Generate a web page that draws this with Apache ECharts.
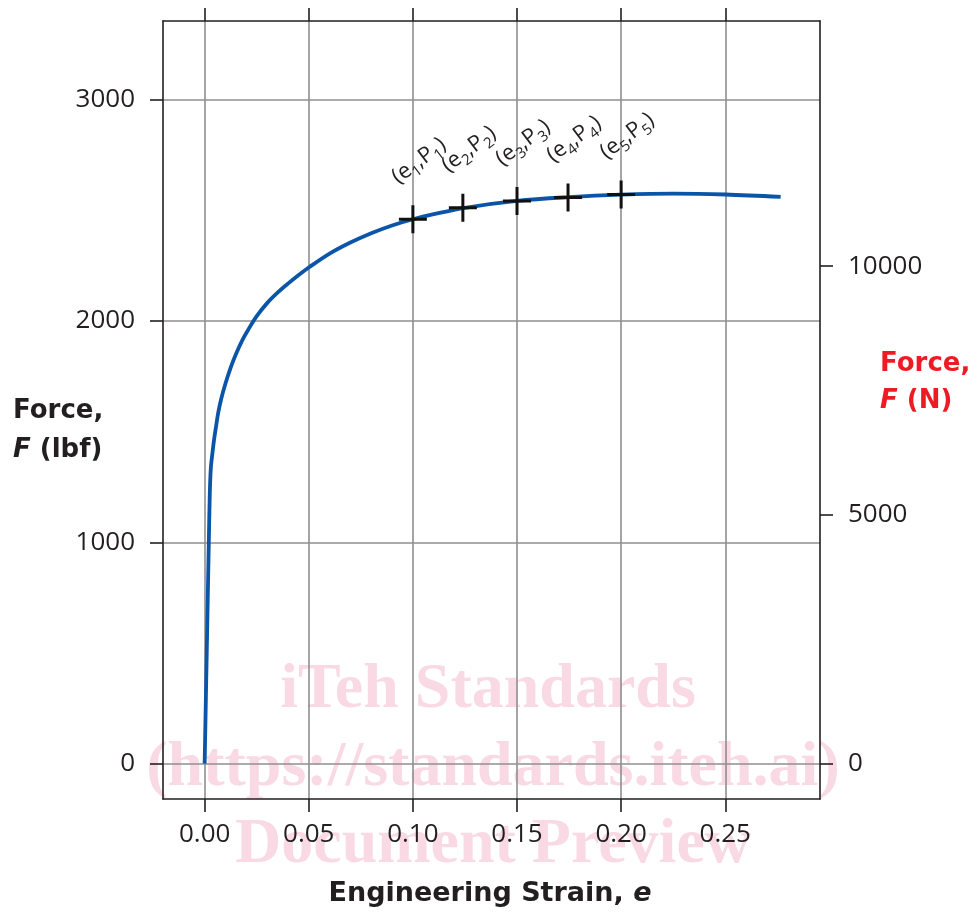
<!DOCTYPE html>
<html>
<head>
    <meta charset="UTF-8" />
    <title>force strain</title>
    <script src="https://cdn.jsdelivr.net/npm/echarts@6/dist/echarts.min.js"></script>
    <style>
        html, body { margin: 0; padding: 0; background: #fff; }
        #A { width: 979px; height: 913px; background: #fff; }
    </style>
</head>
<body>
    <div id="A"></div>
    <script>
        // curve (strain, lbf)
        var strain = [0, 0.0010, 0.0020, 0.0025, 0.0030, 0.0037, 0.0045, 0.0055, 0.0065, 0.0080,
            0.0100, 0.0125, 0.0150, 0.0180, 0.0210, 0.0250, 0.0300, 0.0350, 0.0400, 0.0450,
            0.0500, 0.0600, 0.0700, 0.0800, 0.0900, 0.1000, 0.1100, 0.1250, 0.1500, 0.1750,
            0.2000, 0.2250, 0.2500, 0.2766];
        var force = [0, 500, 1000, 1230, 1340, 1400, 1462, 1525, 1585, 1650,
            1718, 1790, 1850, 1912, 1962, 2022, 2081, 2128, 2169, 2207,
            2242, 2305, 2355, 2397, 2432, 2460, 2483, 2512, 2543, 2560,
            2571, 2576, 2572, 2561];
        // marked points
        var pointStrain = [0.100, 0.124, 0.150, 0.1745, 0.200];
        var pointForce = [2460, 2512, 2542, 2558, 2572];
        var pointIndex = ['1', '2', '3', '4', '5'];
        // ticks
        var xTicks = [0, 0.05, 0.10, 0.15, 0.20, 0.25];
        var yTicks = [0, 1000, 2000, 3000];
        var yRightTicks = [0, 5000, 10000];
        var LBF_TO_N = 4.44822;
        var yMin = -160, yMax = 3356;

        var ink = '#231f20';
        var gridGray = '#8f8f8f';
        var tickFont = '"Open Sans"';
        var wmColor = 'rgba(232, 110, 150, 0.26)';

        var myChart = echarts.init(document.getElementById('A'));

        var curve = strain.map(function (s, i) { return [s, force[i]]; });
        var points = pointStrain.map(function (s, i) { return [s, pointForce[i]]; });

        var axisLineStyle = { show: true, onZero: false, lineStyle: { color: ink, width: 1.6 } };
        var tickStyle = { length: 13, lineStyle: { color: ink, width: 1.6 } };
        var plain = function (v) { return String(v); };

        option = {
            animation: false,
            backgroundColor: 'transparent',
            grid: { left: 163, right: 159, top: 21, bottom: 114, containLabel: false },
            xAxis: [
                {
                    type: 'value', position: 'bottom', min: -0.02, max: 0.2955,
                    axisLine: axisLineStyle,
                    axisTick: Object.assign({ show: true, inside: false, customValues: xTicks }, tickStyle),
                    axisLabel: {
                        customValues: xTicks, margin: 23, color: ink, fontSize: 26, fontFamily: tickFont,
                        formatter: function (v) { return v.toFixed(2); }
                    },
                    splitLine: { show: true, lineStyle: { color: gridGray, width: 1.6 } }
                },
                {
                    type: 'value', position: 'top', min: -0.02, max: 0.2955,
                    axisLine: axisLineStyle,
                    axisTick: Object.assign({ show: true, inside: false, customValues: xTicks }, tickStyle),
                    axisLabel: { show: false },
                    splitLine: { show: false }
                }
            ],
            yAxis: [
                {
                    type: 'value', position: 'left', min: yMin, max: yMax,
                    axisLine: axisLineStyle,
                    axisTick: Object.assign({ show: true, inside: false, customValues: yTicks }, tickStyle),
                    axisLabel: { customValues: yTicks, margin: 28, color: ink, fontSize: 26, fontFamily: tickFont, formatter: plain },
                    splitLine: { show: true, lineStyle: { color: gridGray, width: 1.6 } }
                },
                {
                    type: 'value', position: 'right', min: yMin * LBF_TO_N, max: yMax * LBF_TO_N,
                    axisLine: axisLineStyle,
                    axisTick: Object.assign({ show: true, inside: false, customValues: yRightTicks }, tickStyle),
                    axisLabel: { customValues: yRightTicks, margin: 28, color: ink, fontSize: 26, fontFamily: tickFont, formatter: plain },
                    splitLine: { show: false }
                }
            ],
            graphic: [
                { type: 'text', zlevel: -1, z: -100, silent: true, x: 488, y: 690, style: { text: 'iTeh Standards', fill: wmColor, font: 'bold 64px "Liberation Serif"', textAlign: 'center', textVerticalAlign: 'middle' } },
                { type: 'text', zlevel: -1, z: -100, silent: true, x: 493, y: 768, style: { text: '(https://standards.iteh.ai)', fill: wmColor, font: 'bold 64px "Liberation Serif"', textAlign: 'center', textVerticalAlign: 'middle' } },
                { type: 'text', zlevel: -1, z: -100, silent: true, x: 493, y: 845, style: { text: 'Document Preview', fill: wmColor, font: 'bold 64px "Liberation Serif"', textAlign: 'center', textVerticalAlign: 'middle' } },
                {
                    type: 'text', left: 13, top: 392,
                    style: {
                        text: 'Force,\n{i|F} (lbf)', fill: ink, font: 'bold 26px "DejaVu Sans"', lineHeight: 39,
                        rich: { i: { fontStyle: 'italic', fontWeight: 'bold', fontSize: 26, fontFamily: 'DejaVu Sans', lineHeight: 39 } }
                    }
                },
                {
                    type: 'text', left: 880, top: 346,
                    style: {
                        text: 'Force,\n{i|F} (N)', fill: '#ed1c24', font: 'bold 26px "DejaVu Sans"', lineHeight: 37,
                        rich: { i: { fontStyle: 'italic', fontWeight: 'bold', fontSize: 26, fontFamily: 'DejaVu Sans', lineHeight: 37, color: '#ed1c24' } }
                    }
                },
                {
                    type: 'text', x: 490, y: 894,
                    style: {
                        text: 'Engineering Strain, {i|e}', fill: ink, font: 'bold 27px "DejaVu Sans"',
                        textAlign: 'center', textVerticalAlign: 'middle',
                        rich: { i: { fontStyle: 'italic', fontWeight: 'bold', fontSize: 27, fontFamily: 'DejaVu Sans' } }
                    }
                }
            ],
            series: [
                {
                    name: 'curve',
                    type: 'line',
                    data: curve,
                    smooth: 0.35,
                    showSymbol: false,
                    lineStyle: { color: '#0b55a8', width: 3.8 },
                    z: 3
                },
                {
                    name: 'points',
                    type: 'scatter',
                    data: points,
                    symbol: 'path://M-1.5,-14H1.5V-1.5H14V1.5H1.5V14H-1.5V1.5H-14V-1.5H-1.5Z',
                    symbolSize: 28,
                    itemStyle: { color: '#111', opacity: 1 },
                    z: 4,
                    label: {
                        show: true,
                        position: 'inside',
                        rotate: 37,
                        offset: [40, -43],
                        align: 'center',
                        verticalAlign: 'middle',
                        color: ink,
                        opacity: 1,
                        fontSize: 22,
                        fontFamily: tickFont,
                        lineHeight: 30,
                        formatter: function (p) {
                            var n = pointIndex[p.dataIndex];
                            return '(e{s|' + n + '},P{s|' + n + '})';
                        },
                        rich: {
                            s: { fontSize: 15, fontFamily: tickFont, color: ink, verticalAlign: 'bottom', lineHeight: 15 }
                        }
                    }
                }
            ]
        };

        myChart.setOption(option);
    </script>
</body>
</html>
